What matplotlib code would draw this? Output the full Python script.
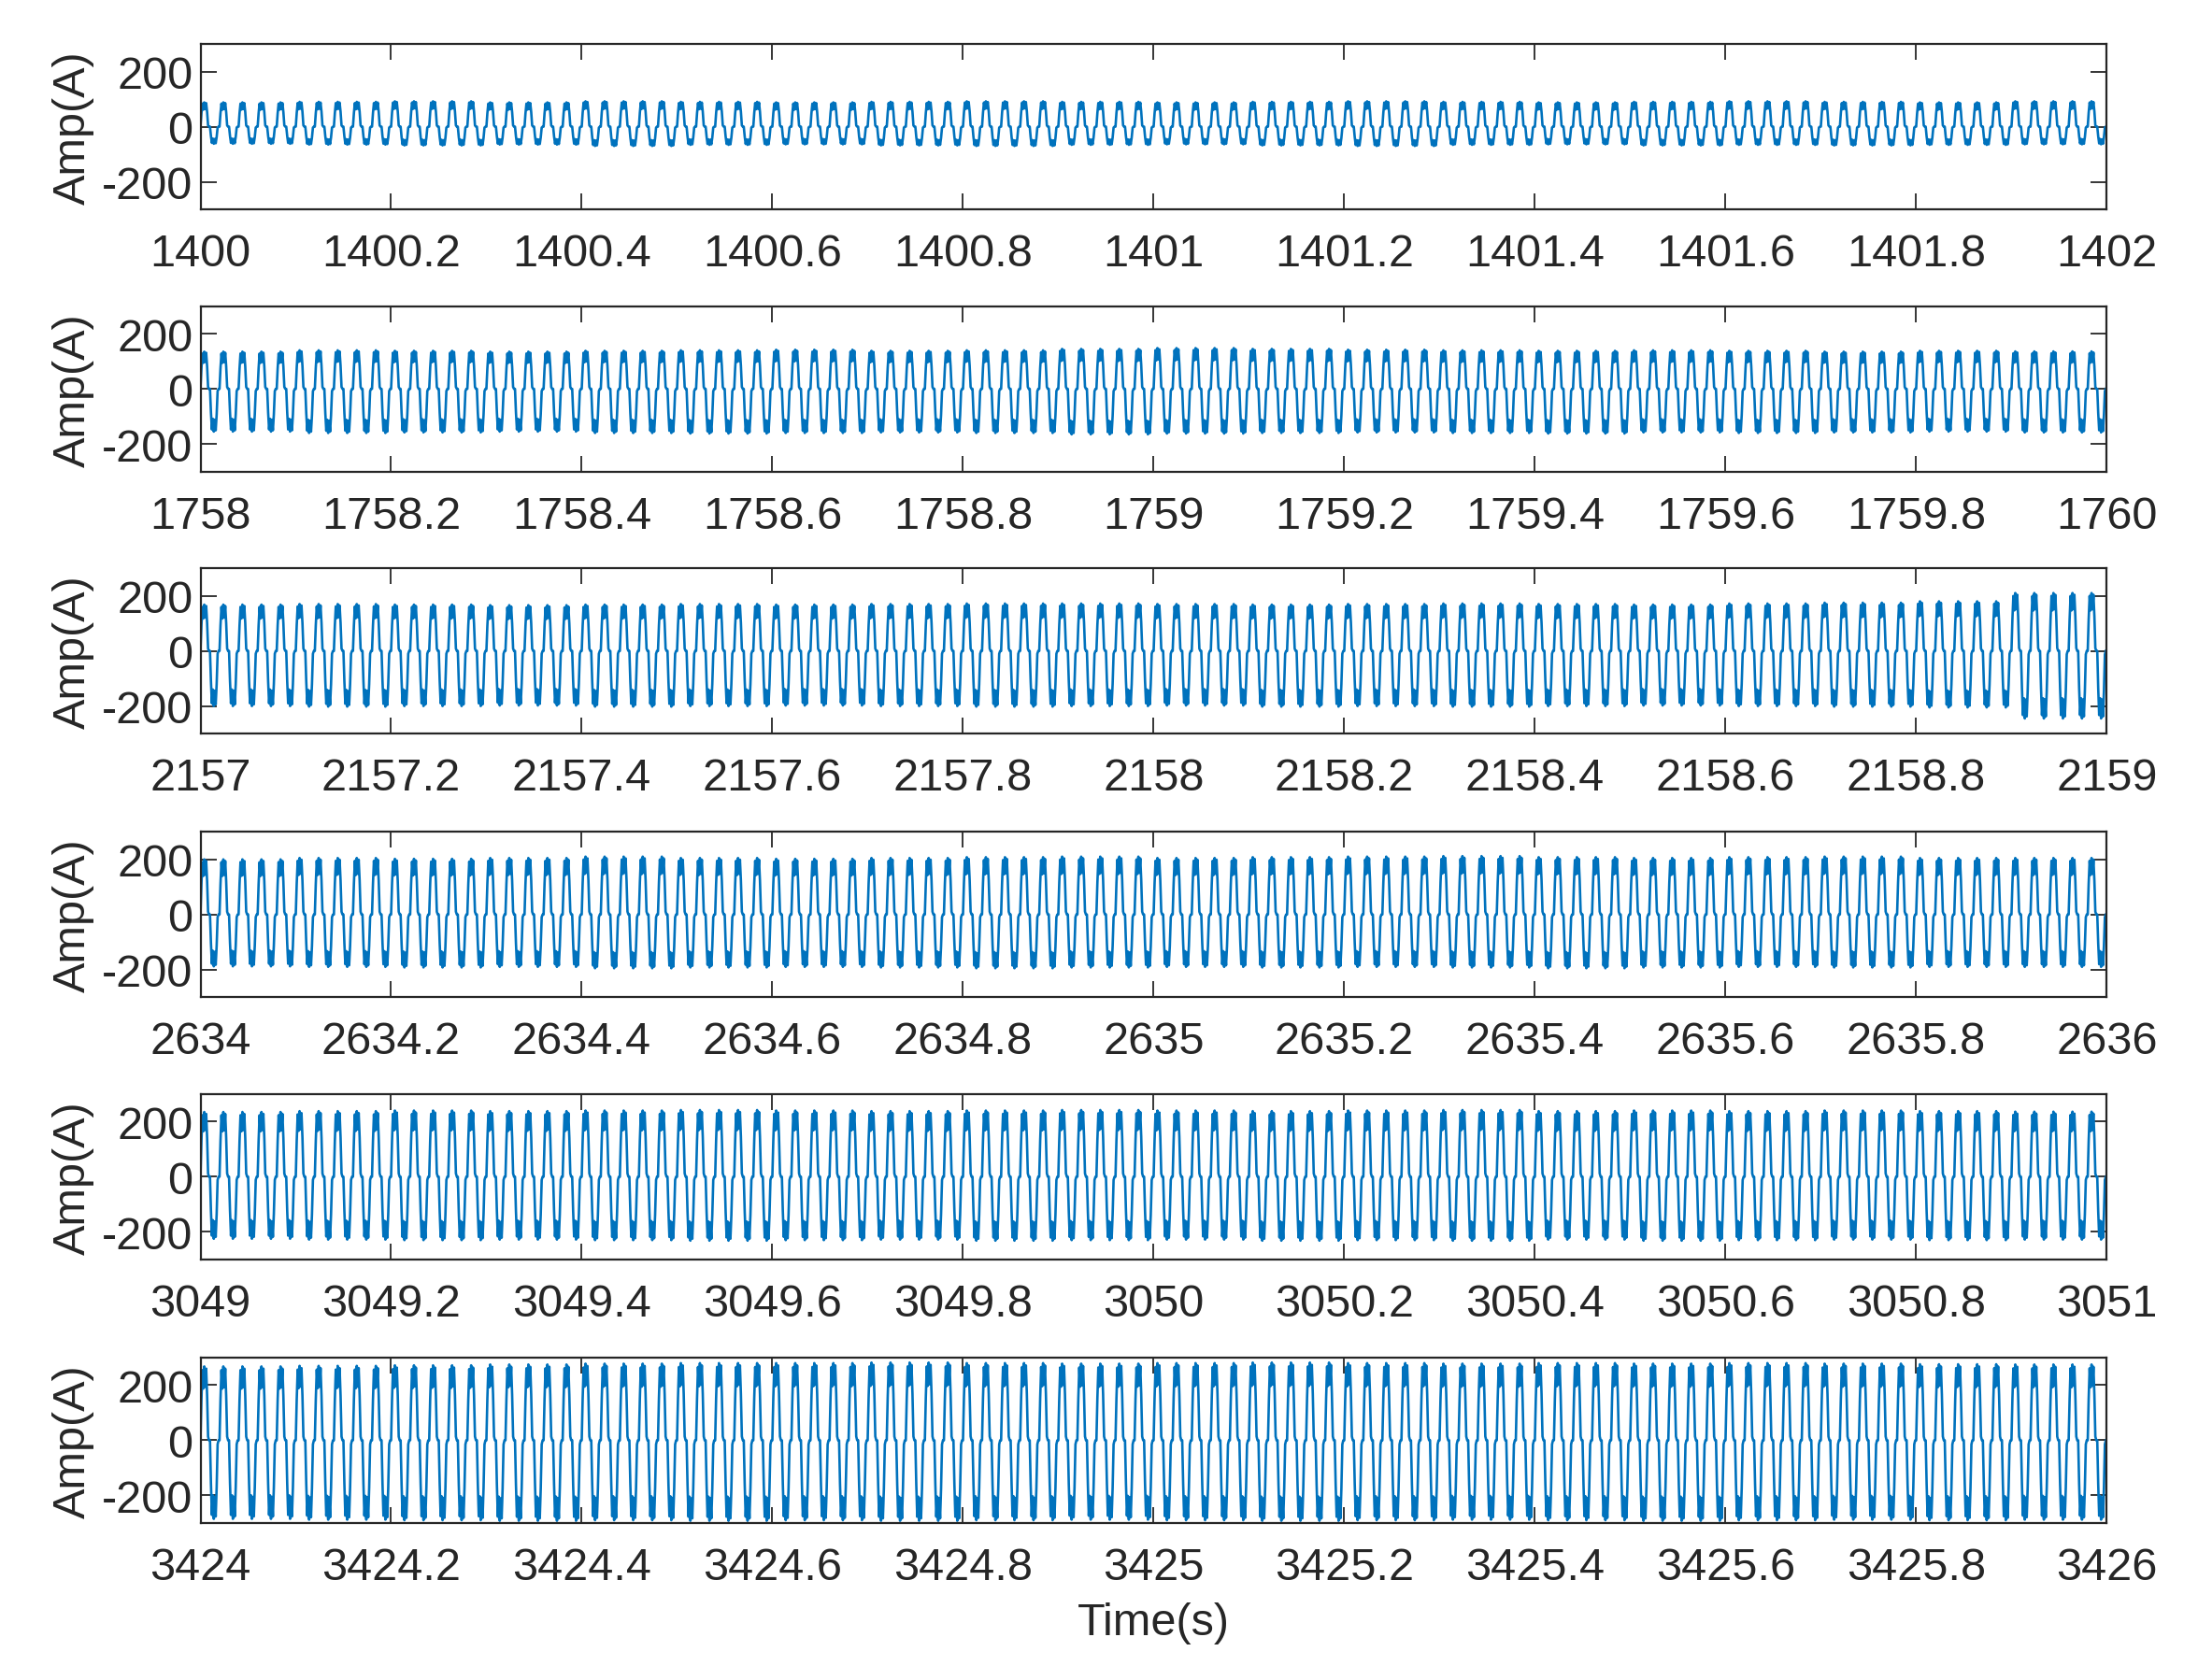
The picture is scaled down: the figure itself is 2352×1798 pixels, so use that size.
import numpy as np
import matplotlib
matplotlib.use('Agg')
import matplotlib.pyplot as plt
from matplotlib.ticker import FixedLocator, FuncFormatter

plt.rcParams['font.family'] = ['Liberation Sans', 'DejaVu Sans']
plt.rcParams['axes.unicode_minus'] = False

# window start times (s), each window is 2 s long
t_starts = [1400, 1758, 2157, 2634, 3049, 3424]
window_len = 2.0
fs = 1000          # samples per second
cycles_per_block = 5   # one envelope value = 0.1 s (5 cycles at 50 Hz)

# one 50 Hz cycle, normalised
cycle_shape = [0.0, 0.55, 0.95, 0.70, 1.0, 0.72, 0.97, 0.60, 0.05, 0.0,
               0.0, -0.55, -0.95, -0.70, -1.0, -0.72, -0.97, -0.60, -0.05, 0.0]

# positive / negative peak per 0.1 s block
pos_1400 = [88, 90, 92, 88, 92, 90, 88, 90, 92, 90, 88, 90, 92, 90, 88, 90, 92, 90, 88, 92]
neg_1400 = [-62, -65, -68, -65, -70, -66, -64, -68, -70, -66, -64, -68, -70, -66, -64, -68, -66, -68, -66, -64]
pos_1758 = [135, 140, 138, 135, 138, 140, 142, 138, 140, 145, 148, 145, 142, 140, 138, 140, 138, 135, 138, 136]
neg_1758 = [-155, -160, -158, -155, -160, -162, -160, -158, -160, -165, -162, -160, -158, -160, -162, -158, -160, -158, -155, -158]
pos_2157 = [168, 170, 168, 166, 168, 170, 168, 170, 172, 172, 170, 168, 170, 172, 170, 168, 172, 175, 180, 210]
neg_2157 = [-200, -202, -200, -198, -202, -200, -198, -200, -202, -200, -198, -202, -200, -202, -200, -198, -200, -202, -205, -245]
pos_2634 = [200, 205, 202, 205, 210, 205, 202, 205, 208, 210, 205, 208, 210, 212, 208, 205, 208, 210, 205, 205]
neg_2634 = [-188, -190, -192, -190, -195, -192, -190, -192, -195, -192, -190, -192, -190, -192, -195, -192, -190, -192, -190, -190]
pos_3049 = [235, 238, 240, 238, 240, 242, 240, 238, 240, 242, 240, 238, 240, 242, 238, 240, 238, 240, 238, 236]
neg_3049 = [-225, -228, -230, -228, -230, -232, -230, -228, -232, -230, -228, -232, -230, -232, -228, -232, -230, -228, -230, -228]
pos_3424 = [268, 270, 272, 275, 278, 280, 280, 282, 280, 278, 280, 282, 280, 278, 280, 278, 280, 278, 276, 275]
neg_3424 = [-285, -288, -290, -292, -290, -292, -290, -292, -290, -288, -290, -292, -290, -288, -290, -292, -290, -288, -290, -288]

pos_peaks = [pos_1400, pos_1758, pos_2157, pos_2634, pos_3049, pos_3424]
neg_peaks = [neg_1400, neg_1758, neg_2157, neg_2634, neg_3049, neg_3424]

y_ticks = [-200, 0, 200]
y_lim = [-300, 300]

line_color = '#0072BD'
axis_color = '#262626'

fig = plt.figure(figsize=(23.52, 17.99), dpi=100)

ax_left = 0.0912
ax_width = 0.9585 - 0.0912
ax_height = 0.0984
ax_bottoms = [0.8749, 0.7189, 0.5630, 0.4062, 0.2502, 0.0934]

shape = np.array(cycle_shape)
for i, t0 in enumerate(t_starts):
    segs = []
    for p, n in zip(pos_peaks[i], neg_peaks[i]):
        cyc = np.where(shape >= 0, shape * p, -shape * n)
        segs.append(np.tile(cyc, cycles_per_block))
    y = np.concatenate(segs)
    t = t0 + np.arange(len(y)) / fs

    ax = fig.add_axes([ax_left, ax_bottoms[i], ax_width, ax_height])
    ax.plot(t, y, color=line_color, linewidth=1.9)
    ax.set_xlim(t0, t0 + window_len)
    ax.set_ylim(y_lim)

    xt = [t0 + 0.2 * k for k in range(11)]
    ax.xaxis.set_major_locator(FixedLocator(xt))
    ax.xaxis.set_major_formatter(FuncFormatter(lambda v, pos: '{:g}'.format(round(v, 1))))
    ax.set_yticks(y_ticks)
    ax.tick_params(direction='in', length=12, width=1.3, colors=axis_color,
                   labelsize=35, top=True, right=True)
    ax.tick_params(axis='x', pad=18)
    ax.tick_params(axis='y', pad=6)
    for s in ax.spines.values():
        s.set_color(axis_color)
        s.set_linewidth(1.6)
    ax.set_ylabel('Amp(A)', fontsize=35, color=axis_color, labelpad=6)

ax.set_xlabel('Time(s)', fontsize=35, color=axis_color, labelpad=10)

fig.savefig('out.png', dpi=100)
